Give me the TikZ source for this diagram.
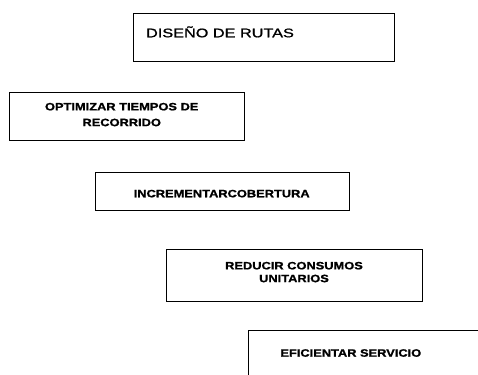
\documentclass[tikz,border=0pt]{standalone}
\usepackage{fontspec}
\newfontfamily\titlefont[FakeStretch=1.3,FakeBold=1.2]{Liberation Sans}
\newfontfamily\boxfont[FakeStretch=1.2,FakeBold=1.2]{Liberation Sans Bold}
\begin{document}
\begin{tikzpicture}[x=1pt,y=-1pt,
  boxframe/.style={draw=black, line width=0.9pt, inner sep=0pt, rectangle},
  titletext/.style={inner sep=0pt, font=\titlefont\fontsize{12.5}{15}\selectfont, anchor=base},
  boxtext/.style={inner sep=0pt, font=\boxfont\fontsize{10.7}{12.8}\selectfont, align=center}]
\useasboundingbox (0,0) rectangle (478,374);
\clip (0,0) rectangle (478,374);
% boxes
\node[boxframe, minimum width=261pt, minimum height=48pt] (b1) at (263.5,37) {};
\node[boxframe, minimum width=235pt, minimum height=48pt] (b2) at (126.5,116) {};
\node[boxframe, minimum width=254pt, minimum height=38pt] (b3) at (222,191) {};
\node[boxframe, minimum width=256pt, minimum height=52pt] (b4) at (294,275) {};
\node[boxframe, minimum width=250pt, minimum height=80pt] (b5) at (373,370) {};
% texts
\node[titletext] (t1) at (220,37.3) {DISEÑO DE RUTAS};
\node[boxtext, anchor=north] (t2) at (121.7,102.7) {OPTIMIZAR TIEMPOS DE\\[3pt]RECORRIDO};
\node[boxtext, anchor=base] (t3) at (221.7,197.3) {INCREMENTARCOBERTURA};
\node[boxtext, anchor=north] (t4) at (294,261.7) {REDUCIR CONSUMOS\\UNITARIOS};
\node[boxtext, anchor=base] (t5) at (350.8,356.7) {EFICIENTAR SERVICIO};
\end{tikzpicture}
\end{document}
